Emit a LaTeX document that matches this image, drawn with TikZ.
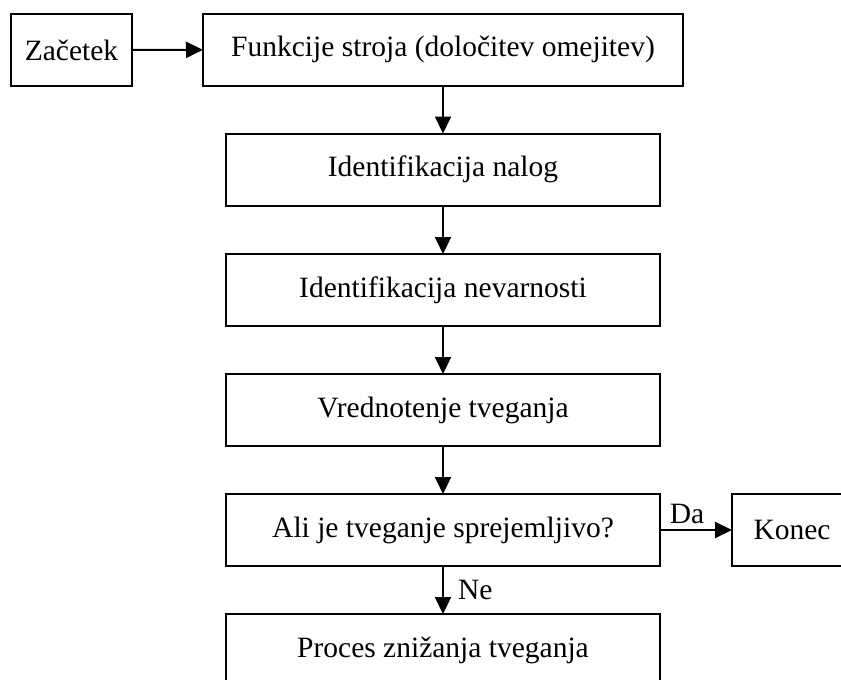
\documentclass[tikz,border=0pt]{standalone}
\usepackage{fontspec}
\setmainfont{Liberation Serif}
\usetikzlibrary{arrows.meta}
\begin{document}
\begin{tikzpicture}[x=1pt,y=-1pt,
  box/.style={draw, line width=2pt, inner sep=0pt, outer sep=0pt,
    minimum height=72pt, font=\fontsize{29.5}{33}\selectfont},
  wide/.style={box, minimum width=434pt},
  flow/.style={line width=2pt, -{Triangle[length=17pt,width=16pt]}},
  lbl/.style={font=\fontsize{29.5}{33}\selectfont, inner sep=0pt}]
  \useasboundingbox (0,0) rectangle (841,680);
  \clip (0,0) rectangle (841,680);

  \node[box, minimum width=121pt] (start) at (71.5,50) {Začetek};
  \node[box, minimum width=480pt] (func) at (443,49.5) {Funkcije stroja (določitev omejitev)};
  \node[wide] (tasks) at (443,169.5) {Identifikacija nalog};
  \node[wide] (haz) at (443,290) {Identifikacija nevarnosti};
  \node[wide] (eval) at (443,410) {Vrednotenje tveganja};
  \node[wide] (acc) at (443,530) {Ali je tveganje sprejemljivo?};
  \node[wide] (red) at (443,650) {Proces znižanja tveganja};
  \node[box, minimum width=120pt] (end) at (792,530) {Konec};

  \draw[flow] (start) -- (func);
  \draw[flow] (func) -- (tasks);
  \draw[flow] (tasks) -- (haz);
  \draw[flow] (haz) -- (eval);
  \draw[flow] (eval) -- (acc);
  \draw[flow] (acc) -- node[lbl, right=14pt] {Ne} (red);
  \draw[flow] (acc) -- node[lbl, above=5pt, xshift=-9pt] {Da} (end);
\end{tikzpicture}
\end{document}
